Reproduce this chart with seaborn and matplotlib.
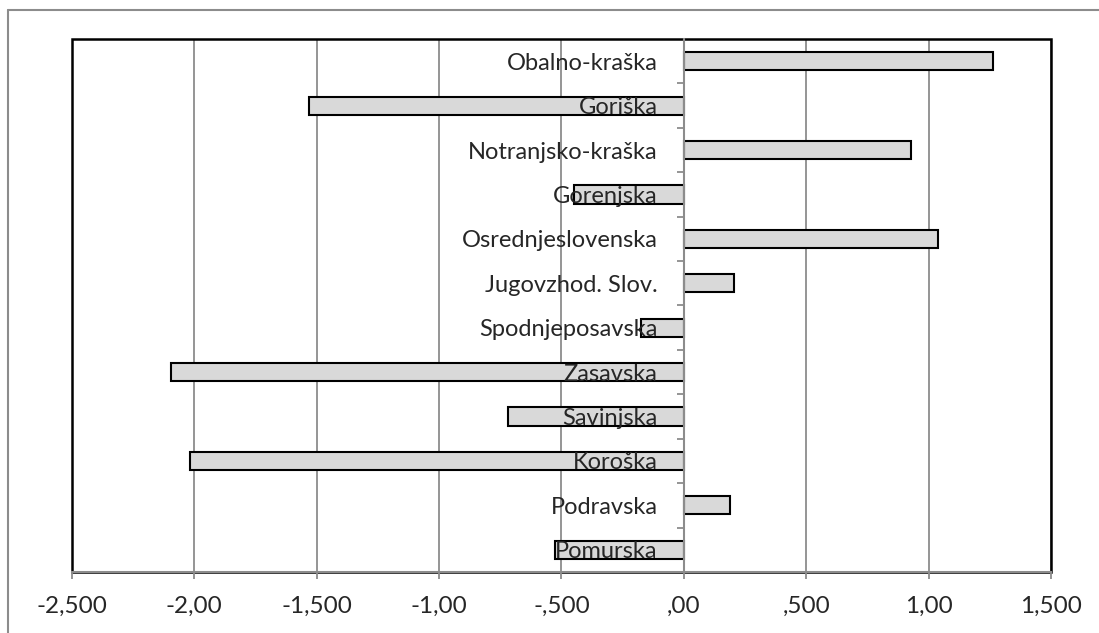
import numpy as np
import pandas as pd
import seaborn as sns
import matplotlib.pyplot as plt
from matplotlib.patches import Rectangle
from matplotlib.lines import Line2D

# Podatki (od zgoraj navzdol)
regije = ["Obalno-kraška", "Goriška", "Notranjsko-kraška", "Gorenjska",
          "Osrednjeslovenska", "Jugovzhod. Slov.", "Spodnjeposavska", "Zasavska",
          "Savinjska", "Koroška", "Podravska", "Pomurska"]
vrednosti = [1.265, -1.53, 0.93, -0.45, 1.04, 0.205, -0.175, -2.095,
             -0.718, -2.017, 0.19, -0.527]
x_ticks = [-2.5, -2.0, -1.5, -1.0, -0.5, 0.0, 0.5, 1.0, 1.5]
x_labels = ["-2,500", "-2,00", "-1,500", "-1,00", "-,500", ",00", ",500", "1,00", "1,500"]

df = pd.DataFrame({"regija": regije, "vrednost": vrednosti})

sns.set_style("white")
plt.rcParams['font.family'] = ['Lato', 'DejaVu Sans']

fig = plt.figure(figsize=(10.99, 6.33), dpi=100)
ax = fig.add_axes([0.0655, 0.0964, 0.8908, 0.842])

sns.barplot(data=df, x="vrednost", y="regija", order=regije, orient="h",
            color="#d9d9d9", edgecolor="black", linewidth=1.5, width=0.41,
            saturation=1, ax=ax)

ax.set_xlim(-2.5, 1.5)
ax.set_ylim(11.5, -0.5)
ax.set_xticks(x_ticks)
ax.set_xticklabels(x_labels, fontsize=17.5)
ax.set_xlabel("")
ax.set_ylabel("")
ax.set_axisbelow(False)  # oznake nad stolpci

# mreža
for xv in x_ticks:
    ax.axvline(xv, color="#8c8c8c", lw=1.3, zorder=0)

# okvir risalne površine
ax.add_patch(Rectangle((0, 0), 1, 1, transform=ax.transAxes, fill=False,
                       edgecolor="black", lw=1.8, zorder=0.5, clip_on=False))

for s in ["top", "right"]:
    ax.spines[s].set_visible(False)
ax.spines["left"].set_position(("data", 0))
ax.spines["left"].set_color("#8c8c8c")
ax.spines["left"].set_linewidth(1.5)
ax.spines["bottom"].set_color("#8c8c8c")
ax.spines["bottom"].set_linewidth(1.5)

ax.tick_params(axis="y", which="major", length=0, pad=19, labelsize=17)
ax.set_yticks(np.arange(0.5, 11.5, 1.0), minor=True)
ax.tick_params(axis="y", which="minor", left=True, length=5, width=1.3,
               color="#8c8c8c", direction="out")
ax.tick_params(axis="x", which="major", bottom=True, length=5, width=1.3,
               color="#8c8c8c", direction="out", pad=12)

# zunanji okvir
fig.add_artist(Line2D([8 / 1099, 8 / 1099], [0, 1 - 10 / 633], color="#8c8c8c", lw=1.5))
fig.add_artist(Line2D([8 / 1099, 1], [1 - 10 / 633, 1 - 10 / 633], color="#8c8c8c", lw=1.5))

fig.savefig("out.png", dpi=100)
